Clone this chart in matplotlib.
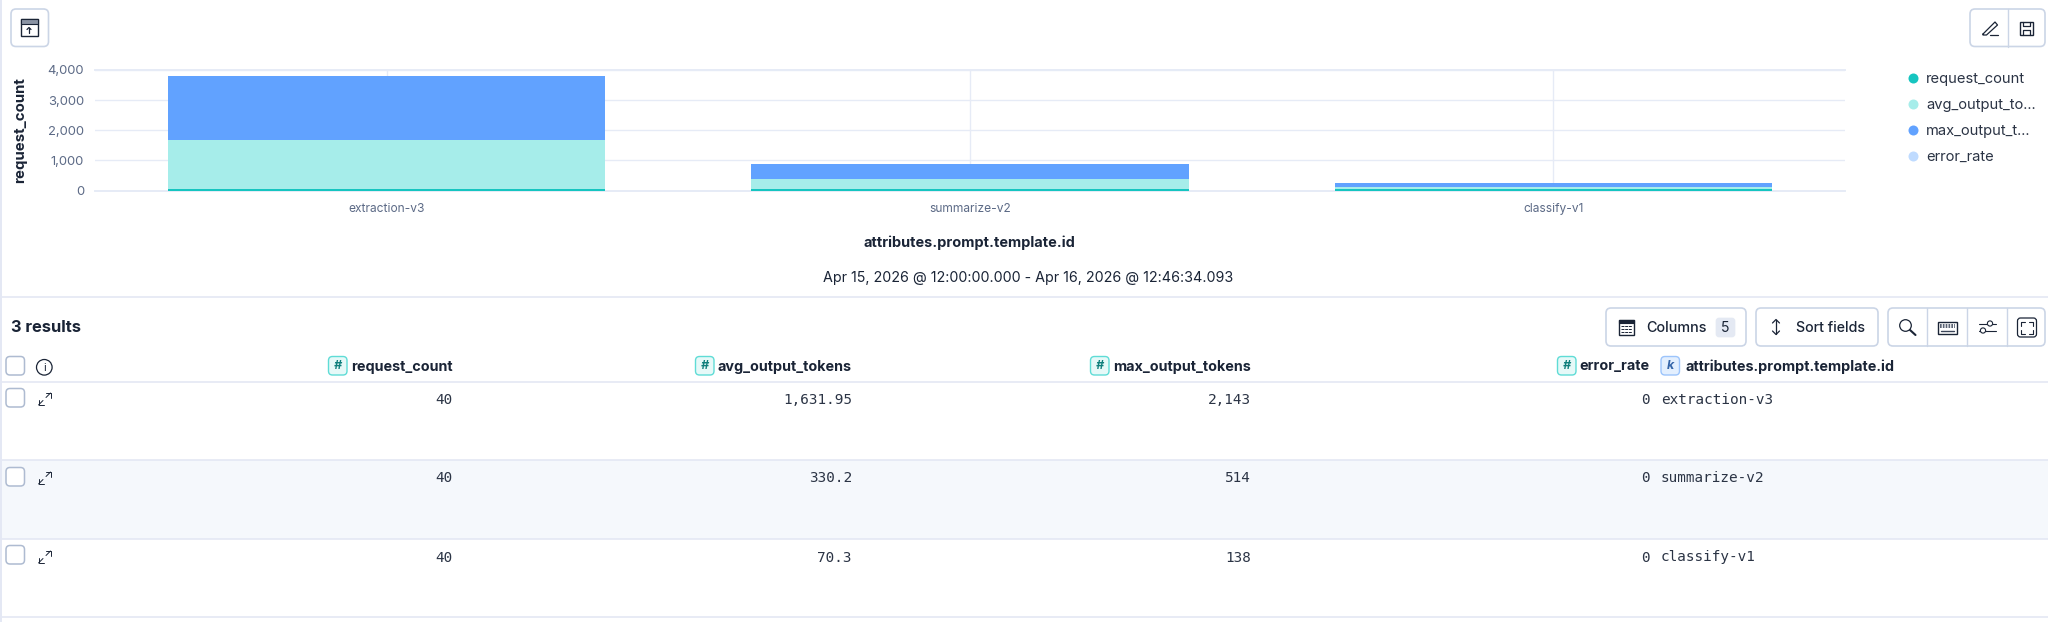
import matplotlib
matplotlib.use("Agg")
import matplotlib.pyplot as plt
from matplotlib.lines import Line2D
from matplotlib.patches import FancyBboxPatch, Rectangle, Circle

plt.rcParams['font.family'] = ['Inter', 'DejaVu Sans']

categories = ["extraction-v3", "summarize-v2", "classify-v1"]
series_names = ["request_count", "avg_output_tokens", "max_output_tokens", "error_rate"]
request_count = [40, 40, 40]
avg_output_tokens = [1631.95, 330.2, 70.3]
max_output_tokens = [2143, 514, 138]
error_rate = [0, 0, 0]
series_colors = ["#16c5c0", "#a6edea", "#61a2ff", "#bfdbff"]
legend_labels = ["request_count", "avg_output_to...", "max_output_t...", "error_rate"]
y_ticks = [0, 1000, 2000, 3000, 4000]
x_title = "attributes.prompt.template.id"
y_title = "request_count"
time_range = "Apr 15, 2026 @ 12:00:00.000 - Apr 16, 2026 @ 12:46:34.093"

W, H = 2048, 622
INK = "#1a2436"
MUTED = "#5c6a86"
GRID = "#e6ebf6"
BORDER = "#cbd5e6"
SEP = "#e4e8f4"
MONO = "#2b3445"


def pt(px):
    return px * 0.72


fig = plt.figure(figsize=(W / 100, H / 100), dpi=100, facecolor="white")
ui = fig.add_axes([0, 0, 1, 1], zorder=1)
ui.set_xlim(0, W)
ui.set_ylim(H, 0)
ui.axis("off")

# ---------- chart ----------
L, R, T, B = 95, 1845, 70, 190.5
ax = fig.add_axes([L / W, 1 - B / H, (R - L) / W, (B - T) / H], zorder=2, facecolor="none")
xs = list(range(len(categories)))
bottom = [0.0] * len(categories)
for vals, col, name in zip([request_count, avg_output_tokens, max_output_tokens, error_rate],
                           series_colors, series_names):
    ax.bar(xs, vals, width=0.75, bottom=bottom, color=col, label=name, zorder=3, linewidth=0)
    bottom = [b + v for b, v in zip(bottom, vals)]
ax.set_xlim(-0.5, 2.5)
ax.set_ylim(0, 4000)
ax.set_yticks(y_ticks)
ax.set_yticklabels([f"{v:,}" for v in y_ticks], fontsize=pt(13), color=MUTED)
ax.set_xticks(xs)
ax.set_xticklabels(categories, fontsize=pt(12), color=MUTED)
ax.tick_params(axis="both", length=0)
ax.tick_params(axis="x", pad=9)
ax.tick_params(axis="y", pad=8)
ax.grid(True, color=GRID, linewidth=1.0, zorder=0)
ax.set_axisbelow(True)
for s in ["left", "right"]:
    ax.spines[s].set_visible(False)
for s in ["top", "bottom"]:
    ax.spines[s].set_color(GRID)
    ax.spines[s].set_linewidth(1.4)

ui.text(20, 130, y_title, rotation=90, ha="center", va="center", fontsize=pt(15),
        fontweight="bold", color=INK)
ui.text(969.5, 243, x_title, ha="center", va="center", fontsize=pt(14.5), fontweight="bold", color=INK)
ui.text(1028, 278, time_range, ha="center", va="center", fontsize=pt(14.3), color=INK)

# legend
handles = [Line2D([], [], marker="o", linestyle="none", markersize=7.2, color=c, markeredgewidth=0)
           for c in series_colors]
ui.legend(handles, legend_labels, loc="upper left", bbox_to_anchor=(1905 / W, 1 - 72 / H),
          frameon=False, fontsize=pt(14.7), labelcolor="#2b3445", labelspacing=0.82,
          handletextpad=0.3, handlelength=1.15, borderpad=0, borderaxespad=0)


# ---------- primitives ----------
def rbox(x0, y0, x1, y1, r=5, ec=BORDER, fc="white", lw=1.2, z=3):
    ui.add_patch(FancyBboxPatch((x0 + r, y0 + r), x1 - x0 - 2 * r, y1 - y0 - 2 * r,
                                boxstyle=f"round,pad={r},rounding_size={r}",
                                ec=ec, fc=fc, lw=lw, zorder=z))


def seg(xv, yv, color=INK, lw=1.0, z=5):
    ui.plot(xv, yv, color=color, lw=lw, zorder=z, solid_capstyle="round")


def vline(x, y0, y1, color=BORDER, lw=1.0):
    seg([x, x], [y0, y1], color=color, lw=lw, z=4)


def hline(y, x0=0, x1=W, color=SEP, lw=1.2):
    ui.plot([x0, x1], [y, y], color=color, lw=lw, zorder=2, solid_capstyle="butt")


# page structure
ui.plot([1, 1], [0, H], color=SEP, lw=1.4, zorder=2)
ui.add_patch(Rectangle((0, 460), W, 79, fc="#f5f8fc", ec="none", zorder=1))
for y in [297, 382, 460, 539, 617]:
    hline(y)

# upload-clapper button
rbox(11, 9, 48.5, 46.5)
ui.add_patch(Rectangle((20.5, 19), 17, 16.5, fc="white", ec=INK, lw=1.0, zorder=5))
ui.add_patch(Rectangle((20.5, 19), 17, 5, fc="#8a93a3", ec=INK, lw=0.8, zorder=5))
seg([29, 29], [33, 27.5], lw=0.9)
seg([27, 29, 31], [29.5, 27.5, 29.5], lw=0.9)

# edit / save
rbox(1970, 9, 2045, 46.5)
vline(2008, 9, 46.5)
seg([1983, 1995, 1997.5, 1986.5, 1983, 1983], [34, 22, 25, 35, 35, 34], lw=0.9)
seg([1990, 1998], [35, 35], lw=0.9)
ui.add_patch(Rectangle((2019.5, 21.5), 13, 13, fc="white", ec=INK, lw=1.0, zorder=5))
seg([2022.5, 2022.5, 2029.5, 2029.5], [21.5, 25.5, 25.5, 21.5], lw=0.9)
seg([2022.5, 2022.5, 2029.5, 2029.5], [34.5, 29.5, 29.5, 34.5], lw=0.9)

# results header
ui.text(11, 328, "3 results", ha="left", va="center", fontsize=pt(16.5), fontweight="bold", color=INK)

# columns button
rbox(1606, 308, 1746, 346)
ui.add_patch(Rectangle((1618.5, 319.5), 15, 15, fc="white", ec=INK, lw=1.0, zorder=5))
ui.add_patch(Rectangle((1618.5, 319.5), 15, 3, fc=INK, ec=INK, lw=0.8, zorder=5))
for yy in [326, 329, 332]:
    ui.plot([1620.5, 1631.5], [yy, yy], color=INK, lw=0.7, ls=(0, (3, 0.8)), zorder=5)
ui.text(1646, 327.5, "Columns", ha="left", va="center", fontsize=pt(14.4), color=INK, fontweight="medium")
rbox(1716, 318, 1735, 337, r=3, ec="#e4e9f3", fc="#e4e9f3", lw=0.5, z=4)
ui.text(1725.5, 327.5, "5", ha="center", va="center", fontsize=pt(14), color=INK, zorder=5)

# sort button
rbox(1756, 308, 1878, 346)
seg([1776, 1776], [320, 334], lw=0.9)
seg([1772.5, 1776, 1779.5], [323, 319.5, 323], lw=0.9)
seg([1772.5, 1776, 1779.5], [331, 334.5, 331], lw=0.9)
ui.text(1796, 327.5, "Sort fields", ha="left", va="center", fontsize=pt(14.2), color=INK, fontweight="medium")

# icon group
rbox(1888, 308, 2045, 346)
for x in [1927, 1967, 2007]:
    vline(x, 308, 346)
ui.add_patch(Circle((1905.5, 325.5), 5.8, fc="none", ec=INK, lw=0.9, zorder=5))
seg([1910, 1915.5], [330, 335], lw=1.5)
ui.add_patch(Rectangle((1938, 321.5), 18.5, 12, fc="white", ec=INK, lw=1.0, zorder=5))
for yy in [324.5, 327]:
    ui.plot([1940, 1955], [yy, yy], color="#3a4458", lw=1.2, ls=(0, (1, 0.7)), zorder=6)
seg([1941, 1953.5], [330.5, 330.5], color="#3a4458", lw=1.0, z=6)
seg([1978.5, 1995.5], [323.5, 323.5], lw=0.8)
seg([1978.5, 1995.5], [330.5, 330.5], lw=0.8)
ui.add_patch(Circle((1990, 323.5), 2.6, fc="white", ec=INK, lw=0.8, zorder=6))
ui.add_patch(Circle((1983, 330.5), 2.6, fc="white", ec=INK, lw=0.8, zorder=6))
rbox(2017.5, 318, 2036.5, 337, r=3, ec=INK, lw=0.9, z=5)
for cx, cy, sx, sy in [(2021, 321.5, 1, 1), (2033, 321.5, -1, 1), (2021, 333.5, 1, -1), (2033, 333.5, -1, -1)]:
    seg([cx, cx, cx + 4 * sx], [cy + 4 * sy, cy, cy], lw=0.8, z=6)


# ---------- table ----------
def badge(x0, y0, letter, kind):
    if kind == "num":
        ec, fc, tc = "#5fdcd6", "#e6f9f8", "#0f7f7c"
    else:
        ec, fc, tc = "#9cc4fb", "#e3effe", "#3565a8"
    rbox(x0, y0, x0 + 18.5, y0 + 18.5, r=4, ec=ec, fc=fc, lw=1.0, z=4)
    ui.text(x0 + 9.25, y0 + 9.5, letter, ha="center", va="center", fontsize=pt(12.5),
            fontweight="bold", fontstyle="italic", color=tc, zorder=5)


def checkbox(y0):
    rbox(6, y0, 24.5, y0 + 18.5, r=4, ec="#aebbd1", fc="white", lw=1.1, z=4)


def expand(cy):
    cx = 44.5
    # two small arrows pointing away from the centre, with a gap between them
    seg([cx + 1.5, cx + 6], [cy - 1.5, cy - 6], lw=0.7)
    seg([cx - 1.5, cx - 6], [cy + 1.5, cy + 6], lw=0.7)
    seg([cx + 1, cx + 6, cx + 6], [cy - 6, cy - 6, cy - 1], lw=0.7)
    seg([cx - 6, cx - 6, cx - 1], [cy + 1, cy + 6, cy + 6], lw=0.7)


checkbox(356.5)
ui.add_patch(Circle((44.3, 367.3), 7.8, fc="white", ec=INK, lw=0.9, zorder=5))
ui.text(44.3, 367.8, "i", ha="center", va="center", fontsize=pt(11), color=INK, zorder=6)

num_cols = [request_count, avg_output_tokens, max_output_tokens, error_rate]
col_right = [453, 852, 1251, 1650]
col_badge = [328.5, 695.5, 1090.5, 1557.5]
HEAD_Y = 366.5
for name, right, bx in zip(series_names, col_right, col_badge):
    badge(bx, 356.5, "#", "num")
    ui.text(right, HEAD_Y, name, ha="right", va="center", fontsize=pt(14.4), fontweight="bold", color=INK)
badge(1661, 356.5, "k", "key")
ui.text(1685, HEAD_Y, x_title, ha="left", va="center", fontsize=pt(14.4), fontweight="bold", color=INK)


def fmt(v):
    return f"{v:,.10g}" if v < 1000 or float(v).is_integer() else f"{v:,.2f}"


row_y = [399.5, 478.5, 557.5]
row_box = [388.5, 467.5, 545.5]
for i, cy in enumerate(row_y):
    checkbox(row_box[i])
    expand(cy - 0.5)
    for col, right in zip(num_cols, col_right):
        ui.text(right, cy, fmt(col[i]), ha="right", va="center", fontsize=pt(14.4),
                family="DejaVu Sans Mono", color=MONO)
    ui.text(1661, cy, categories[i], ha="left", va="center", fontsize=pt(14.4),
            family="DejaVu Sans Mono", color=MONO)

fig.savefig("out.png", dpi=100, facecolor="white")
